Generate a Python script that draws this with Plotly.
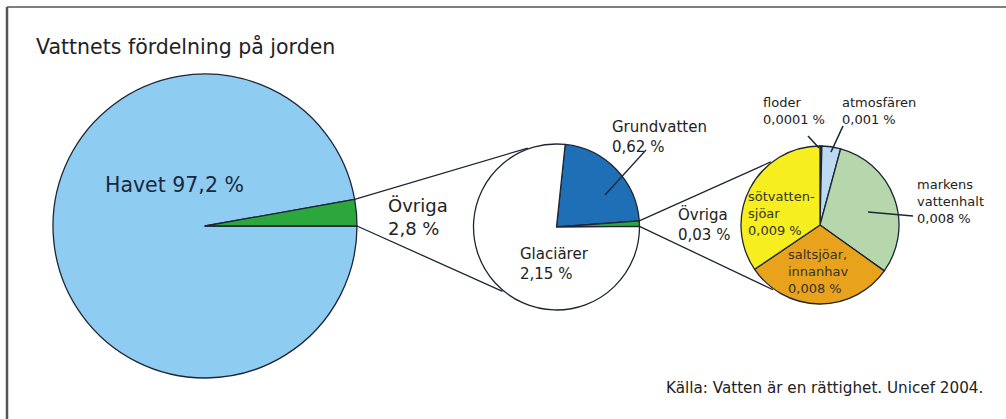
import math
import plotly.graph_objects as go

W, H = 1006, 419

# ---- data ----
main_labels = ["Havet", "Övriga"]
main_values = [97.2, 2.8]
main_colors = ["#8ECCF1", "#2BA73B"]

mid_labels = ["Grundvatten", "Övriga", "Glaciärer"]
mid_values = [0.62, 0.03, 2.15]
mid_colors = ["#1F6FB7", "#2BA73B", "#FFFFFF"]

small_labels = ["floder", "atmosfären", "markens vattenhalt", "saltsjöar, innanhav", "sötvattensjöar"]
small_values = [0.0001, 0.001, 0.008, 0.008, 0.009]
small_colors = ["#1A1A1A", "#BCDAF2", "#B6D6AC", "#E9A21C", "#F6EE1E"]

# ---- layout helpers (pixel -> paper) ----
def px(x):
    return x / W

def py(y):
    return 1 - y / H

# pie geometry (centre, radius in px) and rotation
big = dict(cx=205, cy=226, r=152, rot=90)
mid = dict(cx=556.5, cy=227, r=83, rot=6)
sml = dict(cx=820, cy=225, r=79, rot=0)

def domain(g):
    return dict(x=[px(g["cx"] - g["r"]), px(g["cx"] + g["r"])],
                y=[py(g["cy"] + g["r"]), py(g["cy"] - g["r"])])

def pt(g, ang, rr=None):
    rr = g["r"] if rr is None else rr
    a = math.radians(ang)
    return g["cx"] + rr * math.sin(a), g["cy"] - rr * math.cos(a)

LINE = "#1E2535"
fig = go.Figure()
for labels, values, colors, g in [(main_labels, main_values, main_colors, big),
                                  (mid_labels, mid_values, mid_colors, mid),
                                  (small_labels, small_values, small_colors, sml)]:
    fig.add_trace(go.Pie(labels=labels, values=values, sort=False, direction="clockwise",
                         rotation=g["rot"], textinfo="none", hoverinfo="label+value",
                         marker=dict(colors=colors, line=dict(color=LINE, width=1.3)),
                         domain=domain(g), showlegend=False))

# angles of the exploded slice edges (from data)
def slice_edges(values, idx, rot):
    tot = sum(values)
    start = rot + 360 * sum(values[:idx]) / tot
    end = start + 360 * values[idx] / tot
    return start, end

shapes = []
def seg(p0, p1, w=1.3, color=LINE):
    shapes.append(dict(type="line", xref="paper", yref="paper",
                       x0=px(p0[0]), y0=py(p0[1]), x1=px(p1[0]), y1=py(p1[1]),
                       line=dict(color=color, width=w)))

s0, s1 = slice_edges(main_values, 1, big["rot"])
seg(pt(big, s0), pt(mid, 340, mid["r"] + 1))
seg(pt(big, s1), pt(mid, 220, mid["r"] + 1))

m0, m1 = slice_edges(mid_values, 1, mid["rot"])
seg(pt(mid, m0), pt(sml, 322, sml["r"] + 1))
seg(pt(mid, m1), pt(sml, 216, sml["r"] + 1))

# leader lines
seg((605, 195), (646, 150))
seg((808, 136), (819, 148), w=1.6)
seg((843, 126), (831, 152), w=1.6)
seg((868, 212), (913, 216))

# frame
seg((7, 7), (1006, 7), w=1.5, color="#555555")
seg((7, 7), (7, 419), w=2.5, color="#555555")

FONT = "DejaVu Sans, Verdana, sans-serif"
TXT = "#222222"
ann = []
def text(x, y, s, size, color=TXT, anchor="left"):
    ann.append(dict(x=px(x), y=py(y), xref="paper", yref="paper", text=s, showarrow=False,
                    xanchor=anchor, yanchor="top", align=anchor,
                    font=dict(family=FONT, size=size, color=color)))

text(34, 32, "Vattnets fördelning på jorden", 20.5)
text(103, 171, "Havet 97,2 %", 20.5, color="#1C2740")
text(386, 193, "Övriga<br>2,8 %", 18)
text(610, 116, "Grundvatten<br>0,62 %", 15)
text(518, 243, "Glaciärer<br>2,15 %", 15)
text(676, 203, "Övriga<br>0,03 %", 15)
text(761, 93, "floder<br>0,0001 %", 13)
text(840, 93, "atmosfären<br>0,001 %", 13)
text(915, 175, "markens<br>vattenhalt<br>0,008 %", 13)
text(746, 187, "sötvatten-<br>sjöar<br>0,009 %", 13, color="#333333")
text(786, 245, "saltsjöar,<br>innanhav<br>0,008 %", 13, color="#333333")
text(664, 377, "Källa: Vatten är en rättighet. Unicef 2004.", 15.2)

fig.update_layout(width=W, height=H, margin=dict(l=0, r=0, t=0, b=0),
                  paper_bgcolor="white", plot_bgcolor="white",
                  shapes=shapes, annotations=ann, showlegend=False)
fig.write_html("out.html", config={"displayModeBar": False},
               post_script="document.body.style.margin='0';")
